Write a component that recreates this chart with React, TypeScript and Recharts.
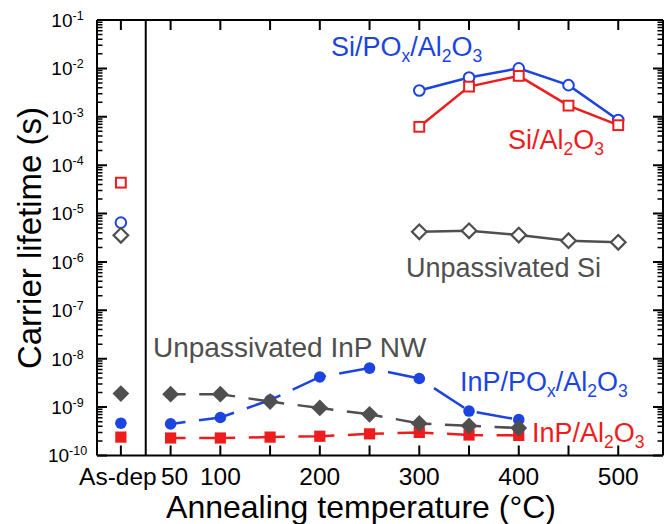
import { ComposedChart, Line, XAxis, YAxis, ReferenceLine } from "recharts";

// x axis: "As-dep" sits at 0, annealed samples at their temperature
const tempTicks = [0, 50, 100, 150, 200, 250, 300, 350, 400, 450, 500];
const tempLabels = ["As-dep", "50", "100", "", "200", "", "300", "", "400", "", "500"];

const decadeTicks = [1e-10, 1e-9, 1e-8, 1e-7, 1e-6, 1e-5, 1e-4, 1e-3, 1e-2, 1e-1];
const decadeExponents = ["-10", "-9", "-8", "-7", "-6", "-5", "-4", "-3", "-2", "-1"];

const minorTicks: number[] = [];
for (let e = -10; e < -1; e++) {
  for (let m = 2; m <= 9; m++) minorTicks.push(m * Math.pow(10, e));
}

// Si wafers (s)
const siTemps = [300, 350, 400, 450, 500];
const siPoxAl2o3 = [3.5e-3, 6.5e-3, 1.0e-2, 4.5e-3, 8.6e-4];
const siAl2o3 = [6.2e-4, 4.2e-3, 7.0e-3, 1.7e-3, 6.7e-4];
const siBare = [4.2e-6, 4.4e-6, 3.6e-6, 2.75e-6, 2.55e-6];

// InP nanowires (s)
const inpTemps = [50, 100, 150, 200, 250, 300, 350, 400];
const inpPoxAl2o3 = [4.5e-10, 6.1e-10, 1.4e-9, 4.2e-9, 6.4e-9, 3.9e-9, 8.3e-10, 5.5e-10];
const inpAl2o3 = [2.3e-10, 2.3e-10, 2.4e-10, 2.5e-10, 2.8e-10, 3.0e-10, 2.65e-10, 2.6e-10];
const inpBare = [1.85e-9, 1.85e-9, 1.3e-9, 9.6e-10, 7.1e-10, 4.6e-10, 4.1e-10, 3.7e-10];

// as-deposited values, same order as seriesNames
const seriesNames = ["Si/POx/Al2O3", "Si/Al2O3", "Unpassivated Si", "InP/Al2O3", "InP/POx/Al2O3", "Unpassivated InP NW"];
const asDepValues = [6.5e-6, 4.35e-5, 3.55e-6, 2.4e-10, 4.65e-10, 1.9e-9];

const X_DOMAIN = [-24, 545];
const Y_DOMAIN = [1e-10, 1e-1];

const W = 667;
const H = 524;
const MARGIN = { top: 20, right: 4, bottom: 0, left: 0 };
const Y_AXIS_W = 97;
const X_AXIS_H = 68.5;
const PLOT_LEFT = MARGIN.left + Y_AXIS_W;
const PLOT_TOP = MARGIN.top;
const PLOT_W = W - MARGIN.right - PLOT_LEFT;
const PLOT_H = H - MARGIN.bottom - X_AXIS_H - PLOT_TOP;
const PLOT_RIGHT = PLOT_LEFT + PLOT_W;
const PLOT_BOTTOM = PLOT_TOP + PLOT_H;

const BLUE = "#1b44e0";
const RED = "#ee1c1c";
const GRAY = "#4f4f4f";
const FONT = "'Liberation Sans', Arial, sans-serif";

type Shape = "circle" | "square" | "diamond";

const series = [
  { temps: siTemps, values: siPoxAl2o3, color: BLUE, shape: "circle" as Shape, filled: false, dashed: false },
  { temps: siTemps, values: siAl2o3, color: RED, shape: "square" as Shape, filled: false, dashed: false },
  { temps: siTemps, values: siBare, color: GRAY, shape: "diamond" as Shape, filled: false, dashed: false },
  { temps: inpTemps, values: inpAl2o3, color: RED, shape: "square" as Shape, filled: true, dashed: true },
  { temps: inpTemps, values: inpPoxAl2o3, color: BLUE, shape: "circle" as Shape, filled: true, dashed: true },
  { temps: inpTemps, values: inpBare, color: GRAY, shape: "diamond" as Shape, filled: true, dashed: true },
];

// frame ticks (axis furniture): same linear / log mapping as the axes use
const tickX = (t: number) => PLOT_LEFT + ((t - X_DOMAIN[0]) / (X_DOMAIN[1] - X_DOMAIN[0])) * PLOT_W;
const tickY = (v: number) =>
  PLOT_TOP + ((Math.log10(Y_DOMAIN[1]) - Math.log10(v)) / (Math.log10(Y_DOMAIN[1]) - Math.log10(Y_DOMAIN[0]))) * PLOT_H;

const majorPath = [
  ...decadeTicks.map((v) => `M${PLOT_LEFT} ${tickY(v)}h10M${PLOT_RIGHT} ${tickY(v)}h-10`),
  ...tempTicks.map((t) => `M${tickX(t)} ${PLOT_BOTTOM}v-10M${tickX(t)} ${PLOT_TOP}v10`),
].join("");
const minorPath = minorTicks.map((v) => `M${PLOT_LEFT} ${tickY(v)}h5.5M${PLOT_RIGHT} ${tickY(v)}h-5.5`).join("");

function marker(cx: number, cy: number, shape: Shape, color: string, filled: boolean, key: string) {
  if (cx == null || cy == null) return <g key={key} />;
  const fill = filled ? color : "#fff";
  const sw = filled ? 0 : 2;
  if (shape === "circle") {
    return <circle key={key} cx={cx} cy={cy} r={filled ? 5.8 : 5.3} fill={fill} stroke={color} strokeWidth={sw} />;
  }
  if (shape === "square") {
    const s = filled ? 5.6 : 4.9;
    return <rect key={key} x={cx - s} y={cy - s} width={2 * s} height={2 * s} fill={fill} stroke={color} strokeWidth={sw} />;
  }
  const h = filled ? 8.4 : 7.3;
  return (
    <polygon
      key={key}
      points={`${cx - h},${cy} ${cx},${cy - h} ${cx + h},${cy} ${cx},${cy + h}`}
      fill={fill}
      stroke={color}
      strokeWidth={filled ? 0 : 2.2}
    />
  );
}

function YTick(props: any) {
  const x = Number(props.x);
  const y = Number(props.y);
  const di = decadeTicks.indexOf(props.payload.value);
  return (
    <text x={x - 29.5} y={y + 6.8} textAnchor="middle" fontSize={19} fontFamily={FONT} fill="#000">
      10
      <tspan dy={-7} fontSize={12.5}>{decadeExponents[di]}</tspan>
    </text>
  );
}

function XTick(props: any) {
  const x = Number(props.x);
  const y = Number(props.y);
  const i = tempTicks.indexOf(props.payload.value);
  const dx = props.payload.value === 0 ? -3 : props.payload.value === 50 ? 4 : 0;
  return (
    <text x={x + dx} y={y + 29} textAnchor="middle" fontSize={24.5} fontFamily={FONT} fill="#000">
      {tempLabels[i]}
    </text>
  );
}

function Chem({ x, y, color, parts }: { x: number; y: number; color: string; parts: [string, boolean][] }) {
  return (
    <text x={x} y={y} fill={color} fontSize={27} fontFamily={FONT}>
      {parts.map(([s, sub], i) => {
        const prevSub = i > 0 && parts[i - 1][1];
        const dy = sub && !prevSub ? 6 : !sub && prevSub ? -6 : 0;
        return (
          <tspan key={i} dy={dy} fontSize={sub ? 17.5 : 27}>
            {s}
          </tspan>
        );
      })}
    </text>
  );
}

const axisStroke = { stroke: "#000", strokeWidth: 2 };

export default function App() {
  return (
    <div style={{ position: "absolute", left: 0, top: 0, background: "#fff" }}>
      <ComposedChart width={W} height={H} margin={MARGIN}>
        <XAxis
          xAxisId="x"
          dataKey="t"
          type="number"
          domain={X_DOMAIN}
          allowDataOverflow
          ticks={tempTicks}
          interval={0}
          tickLine={false}
          tickSize={0}
          tickMargin={0}
          axisLine={axisStroke}
          tick={<XTick />}
          height={X_AXIS_H}
        />
        <YAxis
          yAxisId="y"
          scale="log"
          type="number"
          domain={Y_DOMAIN}
          allowDataOverflow
          ticks={decadeTicks}
          interval={0}
          width={Y_AXIS_W}
          tickLine={false}
          tickSize={0}
          tickMargin={0}
          axisLine={axisStroke}
          tick={<YTick />}
        />

        {/* top and right frame, separator after As-dep */}
        <ReferenceLine xAxisId="x" yAxisId="y" y={Y_DOMAIN[1]} stroke="#000" strokeWidth={2} ifOverflow="visible" />
        <ReferenceLine xAxisId="x" yAxisId="y" x={X_DOMAIN[1]} stroke="#000" strokeWidth={2} ifOverflow="visible" />
        <ReferenceLine xAxisId="x" yAxisId="y" x={25} stroke="#000" strokeWidth={2} />

        {series.map((s, si) => (
          <Line
            key={`line-${si}`}
            xAxisId="x"
            yAxisId="y"
            data={s.temps.map((t, i) => ({ t, v: s.values[i] }))}
            dataKey="v"
            type="linear"
            stroke={s.color}
            strokeWidth={2.5}
            strokeDasharray={s.dashed ? "36 13.6" : undefined}
            strokeDashoffset={s.dashed ? 21 : undefined}
            dot={(p: any) => marker(p.cx, p.cy, s.shape, s.color, s.filled, `d-${si}-${p.index}`)}
            activeDot={false}
            isAnimationActive={false}
          />
        ))}
        {series.map((s, si) => (
          <Line
            key={`asdep-${si}`}
            name={`${seriesNames[si]} as-dep`}
            xAxisId="x"
            yAxisId="y"
            data={[{ t: 0, v: asDepValues[si] }]}
            dataKey="v"
            stroke="none"
            dot={(p: any) => marker(p.cx, p.cy, s.shape, s.color, s.filled, `a-${si}-${p.index}`)}
            activeDot={false}
            isAnimationActive={false}
          />
        ))}

        <path d={majorPath} stroke="#000" strokeWidth={2} fill="none" />
        <path d={minorPath} stroke="#000" strokeWidth={1.5} fill="none" />

        <text transform="translate(41,238) rotate(-90)" textAnchor="middle" fontSize={33} fontFamily={FONT} fill="#000">
          Carrier lifetime (s)
        </text>
        <text x={361} y={517.5} textAnchor="middle" fontSize={32} fontFamily={FONT} fill="#000">
          Annealing temperature (°C)
        </text>

        <Chem x={331} y={56} color={BLUE} parts={[["Si/PO", false], ["x", true], ["/Al", false], ["2", true], ["O", false], ["3", true]]} />
        <Chem x={508} y={149} color={RED} parts={[["Si/Al", false], ["2", true], ["O", false], ["3", true]]} />
        <text x={406} y={277} fill={GRAY} fontSize={27} fontFamily={FONT}>Unpassivated Si</text>
        <text x={153} y={357} fill={GRAY} fontSize={28} fontFamily={FONT}>Unpassivated InP NW</text>
        <Chem x={460} y={390.5} color={BLUE} parts={[["InP/PO", false], ["x", true], ["/Al", false], ["2", true], ["O", false], ["3", true]]} />
        <Chem x={532} y={442} color={RED} parts={[["InP/Al", false], ["2", true], ["O", false], ["3", true]]} />
      </ComposedChart>
    </div>
  );
}
